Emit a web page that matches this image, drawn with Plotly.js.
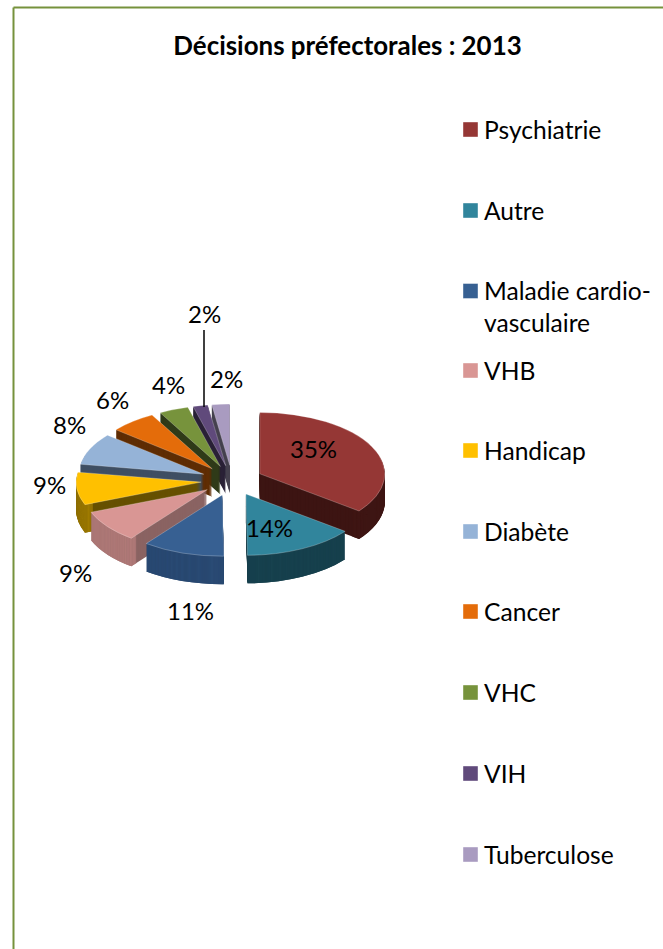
<!DOCTYPE html>
<html><head><meta charset="utf-8">
<script src="https://cdn.plot.ly/plotly-3.0.1.min.js"></script>
<style>html,body{margin:0;padding:0;background:#fff}#c{width:663px;height:949px}</style>
</head><body><div id="c"></div>
<script>
const labels = ['Psychiatrie','Autre','Maladie cardio-<br>vasculaire','VHB','Handicap','Diabète','Cancer','VHC','VIH','Tuberculose'];
const values = [35.4,14.4,10.6,8.6,8.6,8.4,6.0,3.8,1.9,2.3];
const topColors   = ['#953735','#31859c','#376092','#d99694','#ffc000','#95b3d7','#e46c0a','#77933c','#604a7b','#a99bc0'];
const innerColors = ['#3d1513','#153a45','#243f62','#8a6362','#665000','#3f4f63','#5f2d04','#2f3a18','#2a2036','#46424f'];
const outerColors = ['#3f1614','#17424f','#2a4b75','#b47c7a','#a68000','#3f4f63','#5f2d04','#2f3a18','#2a2036','#46424f'];
const titleText = 'Décisions préfectorales : 2013';

const W = 663, H = 949;
const cx = 232, cy = 480.5, R = 125, pull = 0.248, squash = 0.49, depth = 28, step = 1;
const outer = R * (1 + pull);
const px = x => x / W, py = y => 1 - y / H;
const domain = {x:[px(cx-outer), px(cx+outer)], y:[py(cy+outer), py(cy-outer)]};

// outside-label placement, same order as values
const labelX = [313,269,191,75,49,69,112,168,204,226];
const labelY = [448.5,527.5,610.5,572.5,484.5,424.5,399.5,384.5,313.5,378.5];
const legendRows = [129.5,210.5,306,370.5,450.5,531.5,611.5,692.5,773.5,854.5];

const pieBase = {type:'pie', labels, values, sort:false, direction:'clockwise', rotation:0,
  pull, domain, textinfo:'none', hoverinfo:'label+percent'};
const traces = [];
const offsets = [];
for (let d = depth; d > 0; d -= step) {
  traces.push(Object.assign({}, pieBase, {marker:{colors:innerColors, line:{width:0}}, showlegend:false}));
  offsets.push(d);
  traces.push(Object.assign({}, pieBase, {hole:0.93, marker:{colors:outerColors, line:{width:0}}, showlegend:false}));
  offsets.push(d);
}
traces.push(Object.assign({}, pieBase, {marker:{colors:topColors, line:{width:0.6, color:'rgba(255,255,255,0.55)'}}, showlegend:true}));
offsets.push(0);

const font = 'Lato, "Open Sans", sans-serif';
const layout = {
  width:W, height:H, margin:{l:0,r:0,t:0,b:0}, paper_bgcolor:'#fff',
  font:{family:font, color:'#000', size:24},
  title:{text:titleText, x:px(347.5), xanchor:'center', y:py(46), yanchor:'middle', font:{family:font, size:25.9, weight:700, color:'#000'}},
  showlegend:true,
  legend:{x:0, y:1, xanchor:'left', yanchor:'top', font:{family:font, size:24.6, color:'#000'}, itemwidth:30, traceorder:'normal', bgcolor:'rgba(0,0,0,0)'},
  annotations: values.map((v,i)=>({xref:'paper', yref:'paper', x:px(labelX[i]), y:py(labelY[i]), text:Math.round(v)+'%', showarrow:false, xanchor:'center', yanchor:'middle', font:{family:font, size:24, color:'#000'}})),
  shapes:[
    {type:'line', xref:'paper', yref:'paper', x0:px(13.5), x1:px(13.5), y0:py(7.5), y1:0, line:{color:'#76923c', width:2}},
    {type:'line', xref:'paper', yref:'paper', x0:px(13.5), x1:1, y0:py(7.5), y1:py(7.5), line:{color:'#76923c', width:2}},
    {type:'line', xref:'paper', yref:'paper', x0:px(204), x1:px(204), y0:py(330), y1:py(407), line:{color:'#000', width:1.5}}
  ]
};

Plotly.newPlot('c', traces, layout, {displayModeBar:false}).then(() => {
  const root = document.getElementById('c');
  root.querySelectorAll('.pielayer .trace').forEach((g,i) => {
    const top = cy + offsets[i];
    g.setAttribute('transform', `translate(0,${top}) scale(1,${squash}) translate(0,${-cy})`);
  });
  const legend = root.querySelector('.legend');
  legend.setAttribute('transform', 'translate(0,0)');
  const box = legend.querySelector('.scrollbox');
  box.removeAttribute('clip-path');
  box.setAttribute('transform', 'translate(0,0)');
  legend.removeAttribute('clip-path');
  const bg = legend.querySelector('.bg'); if (bg) bg.style.display = 'none';
  legend.querySelectorAll('.traces').forEach((t,i) => {
    t.setAttribute('transform', `translate(444,${legendRows[i]})`);
    const multi = labels[i].includes('<br>');
    const sym = t.querySelector('.legendpie');
    if (sym) sym.setAttribute('transform', `translate(26.5,${multi ? -15 : 0}) scale(1.25)`);
  });
});
</script></body></html>
